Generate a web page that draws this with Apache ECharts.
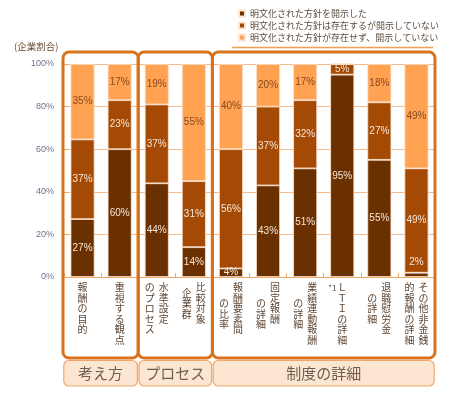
<!DOCTYPE html>
<html><head><meta charset="utf-8">
<script src="https://cdn.jsdelivr.net/npm/echarts@6/dist/echarts.min.js"></script>
<style>html,body{margin:0;padding:0;background:#fff}#c{width:460px;height:396px}</style>
</head><body><div id="c"></div>
<script>
// ---------------- data ----------------
const categories = ['報酬の目的','重視する観点','水準設定のプロセス','比較対象企業群','報酬要素間の比率','固定報酬の詳細','業績連動報酬の詳細','＊1ＬＴＩの詳細','退職慰労金の詳細','その他非金銭的報酬の詳細'];
// vertical label columns: [right column, left column]
const labelColumns = [['報酬の目的'],['重視する観点'],['水準設定','のプロセス'],['比較対象','企業群'],['報酬要素間','の比率'],['固定報酬','の詳細'],['業績連動報酬','の詳細'],['ＬＴＩの詳細'],['退職慰労金','の詳細'],['その他非金銭','的報酬の詳細']];
const labelNotes = ['','','','','','','','*1','',''];
const seriesNames = ['明文化された方針を開示した','明文化された方針は存在するが開示していない','明文化された方針が存在せず、開示していない'];
const disclosed          = [27.2, 60, 44, 14,  4, 43, 51, 95, 55,  2];
const existsNotDisclosed = [37.4, 23, 37, 31, 56, 37, 32,  5, 27, 49];
const notExist           = [35.4, 17, 19, 55, 40, 20, 17,  0, 18, 49];
const groupNames  = ['考え方','プロセス','制度の詳細'];
const groupRanges = [[0,1],[2,3],[4,9]];
const yTicks = [0,20,40,60,80,100];
const yAxisTitle = '(企業割合)';

// ---------------- layout / style ----------------
const FONT = '"Noto Sans CJK JP", sans-serif';
const leftColumnDrop = [0,0,0,1,3,3,3,0,2,0]; // in half rows
const colors = ['#6b3000','#a54a04','#ffa352'];
const labelColors = ['#f6e6d6','#f6e6d6','#8a4820'];

function verticalLabel(i){
  const cols = labelColumns[i];
  const right = Array.from(cols[0]);
  const left = cols[1] ? Array.from(cols[1]) : null;
  const drop = leftColumnDrop[i];
  let H = 2*right.length - 1;
  if (left) H = Math.max(H, 2*(left.length-1) + drop);
  const lines = [];
  for (let h = 0; h <= H; h++){
    const R = (h % 2 === 0 && h/2 < right.length) ? right[h/2] : '\u3000';
    let line = '';
    if (left){
      const k = h - drop;
      const L = (k >= 0 && k % 2 === 0 && k/2 < left.length) ? left[k/2] : '\u3000';
      line = '{l|' + L + '}{r|' + R + '}';
    } else if (labelNotes[i] && h === 0){
      line = '{n|' + labelNotes[i] + '}{r|' + R + '}{p|\u3000}';
    } else {
      line = '{r|' + R + '}';
    }
    lines.push(line);
  }
  return lines.join('\n');
}

const chart = echarts.init(document.getElementById('c'), null, {renderer:'canvas'});
const tokenBase = {fontSize:10, lineHeight:5.25, width:14, align:'center', color:'#5e4634', fontFamily:FONT};

function seriesData(arr, si){
  return arr.map(v => {
    if (si === 0 && v > 0 && v < 3) {
      return {value:v, label:{position:'top', distance:5, color:labelColors[1]}};
    }
    return v;
  });
}

const values = [disclosed, existsNotDisclosed, notExist];
chart.setOption({
  animation:false,
  title:{text:yAxisTitle, left:14, top:42, padding:0,
    textStyle:{fontSize:9.5, fontWeight:'normal', color:'#6b4d33', fontFamily:FONT}},
  legend:{orient:'vertical', left:233, top:4, icon:'rect', itemWidth:6, itemHeight:6, itemGap:3,
    data:seriesNames, selectedMode:false,
    textStyle:{fontSize:9, lineHeight:9, color:'#5d4c3d', fontFamily:FONT}},
  grid:{left:64, right:25, top:64, bottom:119, outerBoundsMode:'none', containLabel:false},
  xAxis:{type:'category', data:categories,
    axisLine:{lineStyle:{color:'#f0a868', width:1}},
    axisTick:{show:true, inside:true, length:4, lineStyle:{color:'#f0a868'}},
    axisLabel:{interval:0, margin:8, lineHeight:5.25, fontSize:10, fontFamily:FONT,
      formatter:(v, idx) => verticalLabel(idx),
      rich:{
        r:Object.assign({}, tokenBase),
        l:Object.assign({}, tokenBase),
        n:{fontSize:8, lineHeight:5.25, width:6, align:'center', color:'#5e4634', fontFamily:FONT},
        p:{fontSize:6, lineHeight:5.25, width:6, align:'center', color:'rgba(0,0,0,0)'}
      }}
  },
  yAxis:{type:'value', min:0, max:100, interval:20,
    axisLine:{show:false},
    axisTick:{show:true, inside:true, length:4, lineStyle:{color:'#f0a868'}},
    splitLine:{show:true, lineStyle:{color:'#f5bb8c', width:1}},
    axisLabel:{formatter:v => v + '%', fontSize:9, margin:10, color:'#7a6a88', fontFamily:'"Liberation Sans", Arial, sans-serif'}
  },
  series: values.map((arr, si) => ({
    name:seriesNames[si], type:'bar', stack:'all', barWidth:24, z: si === 0 ? 3 : 2,
    data:seriesData(arr, si),
    itemStyle:{color:colors[si], borderColor:'#fbe3cf', borderWidth:0.8},
    label:{show:true, position:'inside', fontSize:10, color:labelColors[si], fontFamily:'"Liberation Sans", Arial, sans-serif',
      formatter:p => (p.value > 0 ? Math.round(p.value) + '%' : '')},
    emphasis:{disabled:true}
  }))
});

// decorative group frames positioned from the category axis
function buildGraphics(){
  const xAt = i => chart.convertToPixel({xAxisIndex:0}, i);
  const band = xAt(1) - xAt(0);
  const els = [];
  groupRanges.forEach((rg, gi) => {
    const x0 = xAt(rg[0]) - band/2 - (gi === 0 ? 1 : 0);
    const x1 = xAt(rg[1]) + band/2;
    els.push({type:'rect', shape:{x:x0, y:52, width:x1-x0, height:306, r:6}, z:10,
      style:{fill:null, stroke:'#d9731b', lineWidth:3}});
    els.push({type:'rect', shape:{x:x0+0.8, y:360.5, width:x1-x0-1.6, height:25.5, r:5}, z:10,
      style:{fill:'#fde6d1', stroke:'#f2a66a', lineWidth:1.2}});
    els.push({type:'text', x:(x0+x1)/2, y:373.5, z:11,
      style:{text:groupNames[gi], fontSize:15, fill:'#6f5f52', fontFamily:FONT, align:'center', verticalAlign:'middle'}});
  });
  els.push({type:'line', shape:{x1:232, y1:47.5, x2:433, y2:47.5}, z:10,
    style:{stroke:'#f0a055', lineWidth:1.5}});
  chart.setOption({graphic:{elements:els}});
}
buildGraphics();
</script></body></html>
